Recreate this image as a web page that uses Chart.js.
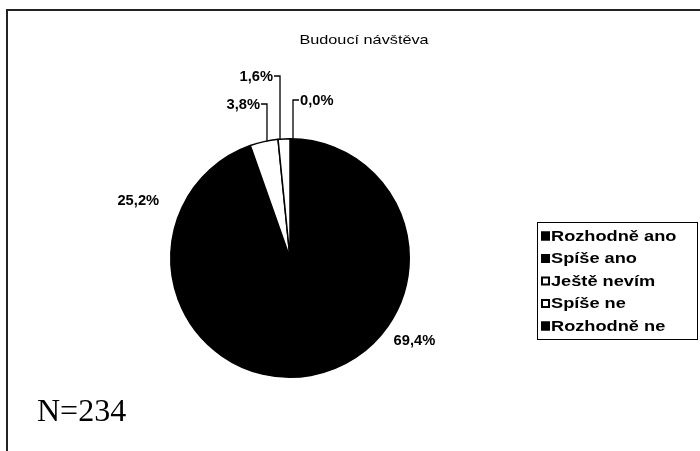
<!DOCTYPE html>
<html>
<head>
<meta charset="utf-8">
<script src="https://cdn.jsdelivr.net/npm/chart.js@4/dist/chart.umd.min.js"></script>
<style>
  html, body { margin: 0; padding: 0; background: #fff; }
  #wrap { width: 700px; height: 451px; position: relative; }
</style>
</head>
<body>
<div id="wrap"><canvas id="myChart" width="700" height="451"></canvas></div>
<script>
// data
var categories = ["Rozhodně ano", "Spíše ano", "Ještě nevím", "Spíše ne", "Rozhodně ne"];
var shares = [69.4, 25.2, 3.8, 1.6, 0.0];
var sliceColors = ["#000000", "#000000", "#ffffff", "#ffffff", "#000000"];
var chartTitle = "Budoucí návštěva";
var noteText = "N=234";

function pct(v) {
	return v.toFixed(1).replace(".", ",") + "%";
}

// text a bit wider than the font, like the scanned original
function wideText(c, txt, x, y, align, sx) {
	c.save();
	c.translate(x, y);
	c.scale(sx, 1);
	c.textAlign = align;
	c.fillText(txt, 0, 0);
	c.restore();
}

// frame, title, N note
var decorPlugin = {
	id: "decor",
	beforeDraw: function(chart) {
		var c = chart.ctx;
		c.save();
		c.fillStyle = "#fff";
		c.fillRect(0, 0, chart.width, chart.height);
		c.strokeStyle = "#222";
		c.lineWidth = 2;
		c.beginPath();
		c.moveTo(7, 451);
		c.lineTo(7, 10);
		c.lineTo(700, 10);
		c.stroke();

		c.fillStyle = "#000";
		c.font = "13px 'Liberation Sans', Arial, sans-serif";
		c.textBaseline = "middle";
		wideText(c, chartTitle, 364, 40, "center", 1.25);

		c.font = "32px 'Liberation Serif', 'Times New Roman', serif";
		c.textAlign = "left";
		c.textBaseline = "alphabetic";
		c.fillText(noteText, 37, 421);
		c.restore();
	}
};

// percentage labels, small slices get leader lines
var labelPlugin = {
	id: "pieLabels",
	afterDatasetsDraw: function(chart) {
		var c = chart.ctx;
		var meta = chart.getDatasetMeta(0);
		c.save();
		c.fillStyle = "#000";
		c.strokeStyle = "#000";
		c.lineWidth = 1.3;
		c.font = "bold 14px 'Liberation Sans', Arial, sans-serif";
		c.textBaseline = "middle";
		// big slices: [distance beyond rim, dx, dy]
		var outside = { 0: [30, 2, -2], 1: [44, -4, 13] };
		// tiny slices: [label y, side, x nudge]
		var leaders = { 2: [104, -1, 3], 3: [76, -1, -4], 4: [100, 1, 3] };
		meta.data.forEach(function(arc, i) {
			var p = arc.getProps(["x", "y", "startAngle", "endAngle", "outerRadius"], true);
			var mid = (p.startAngle + p.endAngle) / 2;
			var txt = pct(shares[i]);
			if (leaders[i]) {
				var ly = leaders[i][0], side = leaders[i][1];
				var ax = p.x + Math.cos(mid) * p.outerRadius + leaders[i][2];
				var ay = p.y + Math.sin(mid) * p.outerRadius;
				c.beginPath();
				c.moveTo(ax, ay);
				c.lineTo(ax, ly);
				c.lineTo(ax + side * 6, ly);
				c.stroke();
				wideText(c, txt, ax + side * 7, ly + 1, side < 0 ? "right" : "left", 1.05);
			} else {
				var o = outside[i];
				var d = p.outerRadius + o[0];
				wideText(c, txt, p.x + Math.cos(mid) * d + o[1], p.y + Math.sin(mid) * d + o[2], "center", 1.05);
			}
		});
		c.restore();
	}
};

// legend box on the right
var legendPlugin = {
	id: "boxLegend",
	afterDraw: function(chart) {
		var c = chart.ctx;
		var ds = chart.data.datasets[0];
		c.save();
		c.strokeStyle = "#000";
		c.lineWidth = 1;
		c.strokeRect(537.5, 222.5, 160, 117);
		c.font = "bold 14px 'Liberation Sans', Arial, sans-serif";
		c.textBaseline = "middle";
		chart.data.labels.forEach(function(lab, i) {
			var y = 236 + i * 22.5;
			c.fillStyle = ds.backgroundColor[i];
			c.fillRect(541, y - 4.5, 9, 9);
			c.lineWidth = 2;
			c.strokeRect(542, y - 3.5, 7, 7);
			c.fillStyle = "#000";
			wideText(c, lab, 551, y + 1, "left", 1.3);
		});
		c.restore();
	}
};

var ctx = document.getElementById("myChart").getContext("2d");
var chart = new Chart(ctx, {
	type: "pie",
	data: {
		labels: categories,
		datasets: [{
			data: shares,
			backgroundColor: sliceColors,
			borderColor: "#000",
			borderWidth: 1.5
		}]
	},
	options: {
		responsive: false,
		animation: false,
		layout: { padding: { left: 170, right: 290, top: 137, bottom: 72 } },
		plugins: {
			legend: { display: false },
			title: { display: false },
			tooltip: { enabled: false }
		}
	},
	plugins: [decorPlugin, labelPlugin, legendPlugin]
});
</script>
</body>
</html>
